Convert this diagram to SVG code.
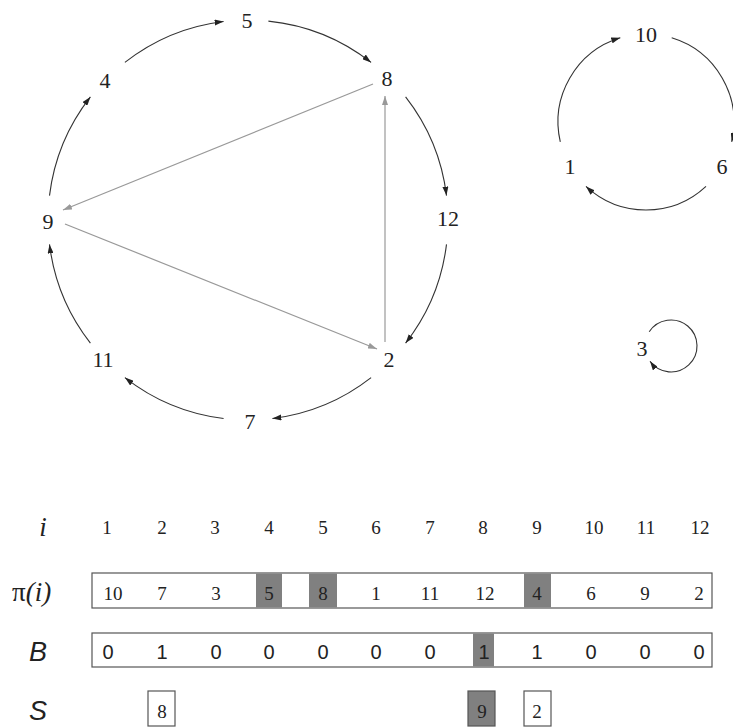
<svg xmlns="http://www.w3.org/2000/svg" width="733" height="727" viewBox="0 0 733 727">
<defs>
<marker id="ah" markerUnits="userSpaceOnUse" markerWidth="10" markerHeight="6" refX="9" refY="3" orient="auto">
<path d="M0,0 L9,3 L0,6 z" fill="#222"/>
</marker>
<marker id="ahg" markerUnits="userSpaceOnUse" markerWidth="10" markerHeight="6" refX="9" refY="3" orient="auto">
<path d="M0,0 L9,3 L0,6 z" fill="#999"/>
</marker>
<style>
.n{font-family:'Liberation Serif','Times New Roman',serif;font-size:22px;fill:#222;text-anchor:middle}
.t{font-family:'Liberation Serif','Times New Roman',serif;font-size:19px;fill:#222;text-anchor:middle}
.b{font-family:'Liberation Sans',Arial,sans-serif;font-size:20px;fill:#222;text-anchor:middle}
.lbl{font-family:'Liberation Sans',Arial,sans-serif;font-style:italic;font-size:27px;fill:#222;text-anchor:middle}
.lser{font-family:'Liberation Serif','Times New Roman',serif;font-size:27px;fill:#222}
.arc{fill:none;stroke:#333;stroke-width:1.1;marker-end:url(#ah)}
.gl{fill:none;stroke:#999;stroke-width:1.2;marker-end:url(#ahg)}
.box{fill:#fff;stroke:#555;stroke-width:1.2}
.gc{fill:#808080}
.gbox{fill:#808080;stroke:#555;stroke-width:1.2}
</style>
</defs>

<g id="connectors">
<path class="arc" d="M124.9,62.4 A200,200 0 0 1 223.6,21.5"/>
<path class="arc" d="M268.4,21.1 A200,200 0 0 1 371.1,62.4"/>
<path class="arc" d="M405.6,96.9 A200,200 0 0 1 446.5,195.6"/>
<path class="arc" d="M446.5,244.4 A200,200 0 0 1 405.6,343.1"/>
<path class="arc" d="M371.1,377.6 A200,200 0 0 1 272.4,418.5"/>
<path class="arc" d="M223.6,418.5 A200,200 0 0 1 124.9,377.6"/>
<path class="arc" d="M90.4,343.1 A200,200 0 0 1 49.5,244.4"/>
<path class="arc" d="M49.5,195.6 A200,200 0 0 1 90.4,96.9"/>
<path class="gl" d="M373,84 L63,210"/>
<path class="gl" d="M65,224 L377,349"/>
<path class="gl" d="M385,342 L385,96"/>
<path class="arc" d="M671.7,37.8 A88,88 0 0 1 731.7,141.8"/>
<path class="arc" d="M706.0,186.4 A88,88 0 0 1 586.0,186.4"/>
<path class="arc" d="M560.3,141.8 A88,88 0 0 1 620.3,37.8"/>
<path class="arc" d="M649.2,331.8 A26,26 0 1 1 650.0,361.3"/>
</g>

<g id="node-5"><text class="n" x="247" y="28">5</text></g>
<g id="node-8"><text class="n" x="387" y="86">8</text></g>
<g id="node-12"><text class="n" x="448" y="226">12</text></g>
<g id="node-2"><text class="n" x="389" y="367">2</text></g>
<g id="node-7"><text class="n" x="250" y="429">7</text></g>
<g id="node-11"><text class="n" x="103" y="367">11</text></g>
<g id="node-9"><text class="n" x="48" y="229">9</text></g>
<g id="node-4"><text class="n" x="105" y="88">4</text></g>
<g id="node-10"><text class="n" x="646" y="42">10</text></g>
<g id="node-1"><text class="n" x="570" y="174">1</text></g>
<g id="node-6"><text class="n" x="722" y="174">6</text></g>
<g id="node-3"><text class="n" x="642" y="356">3</text></g>

<g id="table">
<text class="lser" x="43" y="536" font-style="italic" text-anchor="middle">i</text>
<g class="t">
<text x="107" y="534">1</text><text x="162" y="534">2</text><text x="215" y="534">3</text><text x="269" y="534">4</text>
<text x="323" y="534">5</text><text x="376" y="534">6</text><text x="430" y="534">7</text><text x="483" y="534">8</text>
<text x="537" y="534">9</text><text x="594" y="534">10</text><text x="646" y="534">11</text><text x="700" y="534">12</text>
</g>
<text class="lser" x="12" y="601">π<tspan font-style="italic">(i)</tspan></text>

<rect class="box" x="92" y="573" width="620" height="35"/>
<rect class="gc" x="256" y="573.6" width="26" height="33.8"/>
<rect class="gc" x="309" y="573.6" width="28" height="33.8"/>
<rect class="gc" x="524" y="573.6" width="27" height="33.8"/>
<g class="t">
<text x="113" y="600">10</text><text x="162" y="600">7</text><text x="216" y="600">3</text><text x="269" y="600">5</text>
<text x="323" y="600">8</text><text x="376" y="600">1</text><text x="430" y="600">11</text><text x="485" y="600">12</text>
<text x="537" y="600">4</text><text x="591" y="600">6</text><text x="645" y="600">9</text><text x="699" y="600">2</text>
</g>

<text class="lbl" x="38" y="661">B</text>
<rect class="box" x="92" y="633" width="620" height="34"/>
<rect class="gc" x="473" y="633.6" width="21" height="32.8"/>
<g class="b">
<text x="108" y="659">0</text><text x="162" y="659">1</text><text x="216" y="659">0</text><text x="269" y="659">0</text>
<text x="323" y="659">0</text><text x="376" y="659">0</text><text x="430" y="659">0</text><text x="484" y="659">1</text>
<text x="537" y="659">1</text><text x="591" y="659">0</text><text x="645" y="659">0</text><text x="699" y="659">0</text>
</g>

<text class="lbl" x="38" y="720">S</text>
<rect class="box" x="148" y="691" width="27" height="35"/>
<rect class="gbox" x="468" y="691" width="27" height="35"/>
<rect class="box" x="524" y="691" width="27" height="35"/>
<g class="t">
<text x="162" y="718">8</text><text x="482" y="718">9</text><text x="537" y="718">2</text>
</g>
</g>
</svg>
